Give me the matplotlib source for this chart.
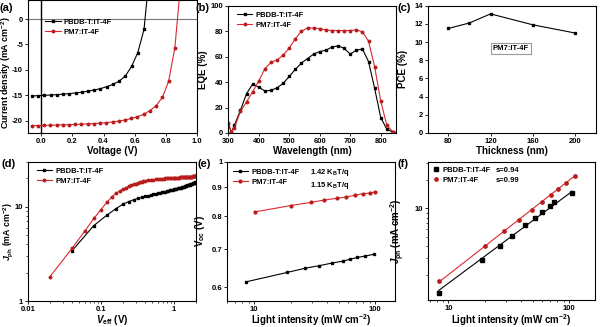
import numpy as np
import matplotlib
matplotlib.use('Agg')
import matplotlib.pyplot as plt
from matplotlib.lines import Line2D
from matplotlib.ticker import FixedLocator, FixedFormatter, NullFormatter, NullLocator, LogLocator

plt.rcParams.update({
    'font.family': 'Liberation Sans',
    'font.weight': 'bold',
    'axes.labelweight': 'bold',
    'axes.unicode_minus': False,
    'mathtext.fontset': 'custom',
    'mathtext.rm': 'Liberation Sans:bold',
    'mathtext.it': 'Liberation Sans:bold:italic',
    'mathtext.bf': 'Liberation Sans:bold',
    'axes.linewidth': 0.8,
    'xtick.major.width': 0.6, 'ytick.major.width': 0.6,
    'xtick.minor.width': 0.5, 'ytick.minor.width': 0.5,
    'xtick.major.size': 2.5, 'ytick.major.size': 2.5,
    'xtick.minor.size': 1.5, 'ytick.minor.size': 1.5,
    'xtick.major.pad': 1.0, 'ytick.major.pad': 1.0,
    'xtick.labelsize': 5.5, 'ytick.labelsize': 5.5,
    'axes.labelsize': 7,
    'legend.fontsize': 5.5,
})

BLACK = '#000000'
RED = '#dc2830'
RED_MK = '#b81c1c'
NAMES = ['PBDB-T:IT-4F', 'PM7:IT-4F']

# (a) J-V curves
v_pbdb = [-0.06, -0.02, 0.02, 0.06, 0.10, 0.14, 0.18, 0.22, 0.26, 0.30,
          0.34, 0.38, 0.42, 0.46, 0.50, 0.54, 0.58, 0.62, 0.66, 0.70]
j_pbdb = [-15.12, -15.06, -15.00, -14.94, -14.86, -14.77, -14.66, -14.53, -14.38, -14.18,
          -13.95, -13.68, -13.30, -12.85, -12.20, -11.20, -9.30, -6.60, -2.00, 10.7]
v_pm7 = [-0.062, -0.022, 0.018, 0.058, 0.098, 0.138, 0.178, 0.218, 0.258, 0.298,
         0.338, 0.378, 0.418, 0.458, 0.498, 0.538, 0.578, 0.618, 0.658, 0.698,
         0.738, 0.778, 0.818, 0.858, 0.898]
j_pm7 = [-20.95, -20.93, -20.90, -20.87, -20.84, -20.80, -20.76, -20.72, -20.67, -20.61,
         -20.54, -20.46, -20.36, -20.24, -20.05, -19.85, -19.55, -19.20, -18.70, -18.00,
         -17.00, -15.40, -12.20, -5.60, 8.0]

# (b) EQE spectra
wavelength = [300, 310, 320, 340, 360, 380, 400, 420, 440, 460, 480, 500, 520, 540, 560,
              580, 600, 620, 640, 660, 680, 700, 720, 740, 760, 780, 800, 820, 840, 850]
eqe_pbdb = [7, 0.5, 6, 18, 31, 38.5, 36, 33, 33.5, 35.5, 39, 44.5, 50, 55, 58.5,
            62, 64, 65, 67.5, 68.5, 66.5, 62, 65, 66, 56, 35, 12, 3, 0.5, 0.2]
eqe_pm7 = [8, 1, 4, 17, 24.5, 32.5, 41, 50.5, 55.5, 57.5, 61, 67, 74, 80, 82.5,
           82.5, 82, 81, 80.5, 80.5, 80.5, 80.5, 81, 79.5, 72, 52, 25, 6, 1, 0.3]

# (c) PCE vs active-layer thickness
thickness = [80, 100, 120, 160, 200]
pce = [11.5, 12.1, 13.1, 11.9, 11.0]

# (d) photocurrent vs effective voltage
veff_pbdb = [0.04, 0.08, 0.12, 0.16, 0.20, 0.24, 0.28, 0.32, 0.36, 0.40,
             0.44, 0.48, 0.52, 0.56, 0.60, 0.64, 0.68, 0.72, 0.76, 0.80,
             0.84, 0.88, 0.92, 0.96, 1.00, 1.04, 1.08, 1.12, 1.16, 1.20,
             1.24, 1.28, 1.32, 1.36, 1.40, 1.44, 1.48, 1.52, 1.56, 1.60,
             1.64, 1.68, 1.72, 1.76, 1.80, 1.84, 1.88, 1.92, 1.96, 2.00]
jph_pbdb = [3.4, 6.3, 8.1, 9.5, 10.6, 11.3, 11.8, 12.2, 12.5, 12.8,
            13.0, 13.25, 13.45, 13.6, 13.8, 13.95, 14.1, 14.25, 14.4, 14.5,
            14.65, 14.8, 14.9, 15.05, 15.2, 15.3, 15.45, 15.55, 15.7, 15.8,
            15.9, 16.05, 16.15, 16.3, 16.4, 16.5, 16.65, 16.75, 16.9, 17.0,
            17.1, 17.25, 17.35, 17.5, 17.6, 17.7, 17.85, 17.95, 18.05, 18.2]
veff_pm7 = [0.02, 0.04, 0.06, 0.08, 0.10, 0.12, 0.14, 0.16, 0.18, 0.20,
            0.22, 0.24, 0.26, 0.28, 0.30, 0.32, 0.34, 0.36, 0.38, 0.40,
            0.44, 0.48, 0.52, 0.56, 0.60, 0.64, 0.68, 0.72, 0.76, 0.80,
            0.84, 0.88, 0.92, 0.96, 1.00, 1.04, 1.08, 1.12, 1.16, 1.20,
            1.24, 1.28, 1.32, 1.36, 1.40, 1.44, 1.48, 1.52, 1.56, 1.60,
            1.64, 1.68, 1.72, 1.76, 1.80, 1.84, 1.88, 1.92, 1.96, 2.00]
jph_pm7 = [1.81, 3.6, 5.5, 7.5, 9.3, 11.1, 12.6, 13.8, 14.6, 15.3,
           15.9, 16.4, 16.8, 17.2, 17.5, 17.8, 18.0, 18.3, 18.5, 18.7,
           18.9, 19.1, 19.3, 19.4, 19.5, 19.6, 19.7, 19.8, 19.85, 19.9,
           19.95, 20.0, 20.05, 20.1, 20.15, 20.2, 20.25, 20.3, 20.3, 20.35,
           20.4, 20.4, 20.45, 20.5, 20.5, 20.55, 20.6, 20.6, 20.65, 20.7,
           20.7, 20.75, 20.8, 20.8, 20.85, 20.9, 20.9, 20.95, 21.0, 21.0]

# (e) Voc vs light intensity
light_voc_pbdb = [8.5, 18.7, 26.3, 34.6, 44.3, 54.0, 61.6, 71.3, 83.0, 97.7]
voc_pbdb = [0.613, 0.637, 0.648, 0.655, 0.662, 0.667, 0.672, 0.677, 0.681, 0.686]
light_voc_pm7 = [10.2, 20.0, 29.5, 38.0, 48.0, 58.0, 68.7, 79.0, 91.0, 100.0]
voc_pm7 = [0.815, 0.836, 0.847, 0.855, 0.861, 0.866, 0.872, 0.877, 0.880, 0.884]
voc_slopes = ['1.42', '1.15']

# (f) Jph vs light intensity
light_j_pbdb = [8.3, 18.8, 26.9, 33.8, 43.0, 51.9, 59.9, 68.8, 75.5, 106.0]
jlight_pbdb = [1.28, 2.86, 4.01, 5.11, 6.62, 7.91, 9.08, 10.5, 11.66, 14.4]
light_j_pm7 = [8.4, 19.9, 28.9, 38.3, 49.3, 59.7, 70.4, 81.0, 93.7, 112.0]
jlight_pm7 = [1.73, 3.98, 5.77, 7.54, 9.68, 11.75, 13.8, 15.98, 18.5, 22.1]
s_values = [0.94, 0.99]

W, H = 600, 327
fig = plt.figure(figsize=(W / 100, H / 100), dpi=100)


def axes_px(left, top, right, bottom):
    return fig.add_axes([left / W, 1 - bottom / H, (right - left) / W, (bottom - top) / H])


def style(ax):
    ax.tick_params(which='both', direction='out', top=False, right=False)
    for lab in ax.get_xticklabels() + ax.get_yticklabels():
        lab.set_fontweight('bold')


def panel_label(x, y, s):
    fig.text(x / W, 1 - y / H, s, fontsize=8, fontweight='bold', ha='left', va='center')


def log_ticks(axis, majors, labels, minor=True):
    axis.set_major_locator(FixedLocator(majors))
    axis.set_major_formatter(FixedFormatter(labels))
    if minor:
        axis.set_minor_locator(LogLocator(base=10, subs=np.arange(2, 10)))
        axis.set_minor_formatter(NullFormatter())
    else:
        axis.set_minor_locator(NullLocator())


LEG = dict(frameon=False, borderpad=0, labelspacing=0.35, handletextpad=0.4)

# ---- (a)
ax = axes_px(28, 0, 197, 133)
ax.axhline(0, color='#777777', lw=0.8, zorder=1)
ax.axvline(0, color='black', lw=1.0, zorder=1)
ax.plot(v_pbdb, j_pbdb, '-s', color=BLACK, lw=0.8, ms=1.8, label=NAMES[0])
ax.plot(v_pm7, j_pm7, '-o', color=RED, lw=0.8, ms=1.8, mfc=RED_MK, mec=RED_MK, label=NAMES[1])
ax.set_xlim(-0.085, 1.0)
ax.set_ylim(-22.4, 3.74)
ax.set_xticks([0.0, 0.2, 0.4, 0.6, 0.8, 1.0])
ax.set_yticks([0, -5, -10, -15, -20])
ax.set_xlabel('Voltage (V)', labelpad=1)
ax.set_ylabel('Current density (mA cm$^{-2}$)', fontsize=6.4)
ax.yaxis.set_label_coords(-0.088, 0.45)
ax.legend(loc='upper left', bbox_to_anchor=(0.08, 0.89), handlelength=2.0, **LEG)
style(ax)

# ---- (b)
ax = axes_px(228.3, 5.7, 396, 133)
ax.plot(wavelength, eqe_pbdb, '-s', color=BLACK, lw=0.8, ms=1.8, label=NAMES[0])
ax.plot(wavelength, eqe_pm7, '-o', color=RED, lw=0.8, ms=1.8, mfc=RED_MK, mec=RED_MK, label=NAMES[1])
ax.set_xlim(300, 850)
ax.set_ylim(0, 100)
ax.set_xticks([300, 400, 500, 600, 700, 800])
ax.set_yticks([0, 20, 40, 60, 80, 100])
ax.set_xlabel('Wavelength (nm)', labelpad=1)
ax.set_ylabel('EQE (%)')
ax.yaxis.set_label_coords(-0.124, 0.5)
ax.legend(loc='upper left', bbox_to_anchor=(0.03, 0.985), handlelength=2.0, **LEG)
style(ax)

# ---- (c)
ax = axes_px(428.3, 5.7, 596, 133)
ax.plot(thickness, pce, '-s', color=BLACK, lw=0.8, ms=1.8)
ax.set_xlim(61, 220)
ax.set_ylim(0, 14)
ax.set_xticks([80, 120, 160, 200])
ax.set_yticks(range(0, 15, 2))
ax.set_xlabel('Thickness (nm)', labelpad=1)
ax.set_ylabel('PCE (%)')
ax.yaxis.set_label_coords(-0.124, 0.5)
ax.text(139, 9.3, NAMES[1], fontsize=5.5, fontweight='bold', ha='center', va='center',
        bbox=dict(boxstyle='square,pad=0.25', fc='white', ec='#999999', lw=0.8))
style(ax)

# ---- (d)
ax = axes_px(28, 161.5, 196, 301)
ax.plot(veff_pbdb, jph_pbdb, '-s', color=BLACK, lw=0.8, ms=1.8, label=NAMES[0])
ax.plot(veff_pm7, jph_pm7, '-o', color=RED, lw=0.8, ms=1.8, mfc=RED_MK, mec=RED_MK, label=NAMES[1])
ax.set_xscale('log')
ax.set_yscale('log')
ax.set_xlim(0.01, 2)
ax.set_ylim(1, 30)
log_ticks(ax.xaxis, [0.01, 0.1, 1], ['0.01', '0.1', '1'])
log_ticks(ax.yaxis, [1, 10], ['1', '10'])
ax.set_xlabel('$V_{\\rm eff}$ (V)')
ax.xaxis.set_label_coords(0.5, -0.088)
ax.set_ylabel('$J_{\\rm ph}$ (mA cm$^{-2}$)', fontsize=6.3)
ax.yaxis.set_label_coords(-0.08, 0.5)
ax.legend(loc='upper left', bbox_to_anchor=(0.03, 0.985), handlelength=2.0, **LEG)
style(ax)

# ---- (e)
ax = axes_px(227.3, 161.5, 395, 300.7)
h1, = ax.plot(light_voc_pbdb, voc_pbdb, '-s', color=BLACK, lw=0.8, ms=2.0)
h2, = ax.plot(light_voc_pm7, voc_pm7, '-o', color=RED, lw=0.8, ms=2.0, mfc=RED_MK, mec=RED_MK)
ax.set_xscale('log')
ax.set_yscale('log')
ax.set_xlim(6, 146)
ax.set_ylim(0.568, 1.0)
log_ticks(ax.xaxis, [10, 100], ['10', '100'])
log_ticks(ax.yaxis, [0.6, 0.7, 0.8, 0.9, 1.0], ['0.6', '0.7', '0.8', '0.9', '1'], minor=False)
ax.set_xlabel('Light intensity (mW cm$^{-2}$)')
ax.xaxis.set_label_coords(0.5, -0.085)
ax.set_ylabel('V$_{\\rm oc}$ (V)')
ax.yaxis.set_label_coords(-0.124, 0.5)
blank = Line2D([], [], linestyle='none')
ax.legend([h1, h2, blank, blank],
          [NAMES[0], NAMES[1]] + [f'{s} K$_{{\\rm B}}$T/q' for s in voc_slopes],
          ncol=2, loc='upper left', bbox_to_anchor=(0.01, 0.99),
          handlelength=2.0, columnspacing=-1.0, **LEG)
style(ax)

# ---- (f)
ax = axes_px(428.3, 161.5, 595, 300)
for xs, ys, s, col, mk in [(light_j_pbdb, jlight_pbdb, s_values[0], BLACK, 's'),
                           (light_j_pm7, jlight_pm7, s_values[1], RED, 'o')]:
    lx, ly = np.log10(xs), np.log10(ys)
    b = np.mean(ly - s * lx)
    xfit = np.array([min(xs), max(xs)])
    ax.plot(xfit, 10 ** (b + s * np.log10(xfit)), '-', color=col, lw=0.8)
    mcol = BLACK if col == BLACK else RED_MK
    ax.plot(xs, ys, mk, ms=2.4, mfc=mcol, mec=mcol)
ax.set_xscale('log')
ax.set_yscale('log')
ax.set_xlim(6.8, 164)
ax.set_ylim(1.09, 31)
log_ticks(ax.xaxis, [10, 100], ['10', '100'])
log_ticks(ax.yaxis, [10], ['10'])
ax.set_xlabel('Light intensity (mW cm$^{-2}$)')
ax.xaxis.set_label_coords(0.5, -0.088)
ax.set_ylabel('$J_{\\rm ph}$ (mA cm$^{-2}$)')
ax.yaxis.set_label_coords(-0.125, 0.5)
m1 = Line2D([], [], marker='s', color=BLACK, linestyle='none', ms=2.4)
m2 = Line2D([], [], marker='o', color=RED_MK, linestyle='none', ms=2.4)
ax.legend([m1, m2, blank, blank],
          [NAMES[0], NAMES[1]] + [f's={s:.2f}' for s in s_values],
          ncol=2, loc='upper left', bbox_to_anchor=(0.0, 0.99),
          handlelength=1.0, columnspacing=-0.75, **LEG)
style(ax)

panel_label(0, 8, '(a)')
panel_label(196, 8, '(b)')
panel_label(397, 8, '(c)')
panel_label(2, 164, '(d)')
panel_label(197, 164, '(e)')
panel_label(397, 164, '(f)')

fig.savefig('out.png', dpi=100)
